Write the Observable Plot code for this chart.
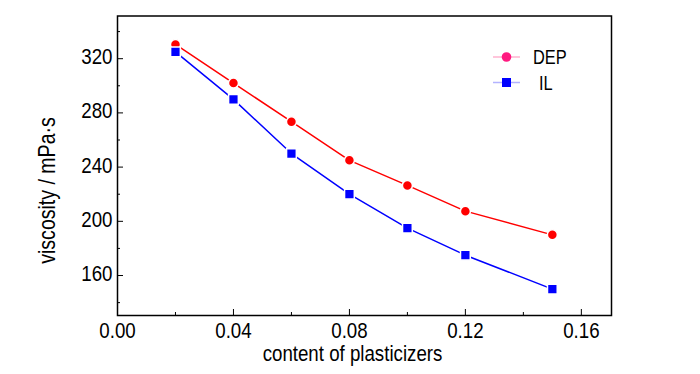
<!DOCTYPE html>
<html>
<head>
<meta charset="utf-8">
<script src="https://cdn.jsdelivr.net/npm/d3@7"></script>
<script src="https://cdn.jsdelivr.net/npm/@observablehq/plot@0.6"></script>
<style>
  html, body { margin: 0; padding: 0; background: #fff; }
  #chart svg { font-family: "Liberation Sans", Arial, sans-serif; }
</style>
</head>
<body>
<div id="chart"></div>
<script>
const content = [0.02, 0.04, 0.06, 0.08, 0.10, 0.12, 0.15];
const depViscosity = [330.5, 302, 273.5, 245, 226.5, 207.5, 190];
const ilViscosity = [325, 290, 250, 220, 195, 175, 150];
const xMajorTicks = [0, 0.04, 0.08, 0.12, 0.16];
const xMinorTicks = [0.02, 0.06, 0.10, 0.14];
const yMajorTicks = [160, 200, 240, 280, 320];
const yMinorTicks = [140, 180, 220, 260, 300, 340];
const seriesNames = ["DEP", "IL"];
const xLabel = "content of plasticizers";
const yLabel = "viscosity / mPa·s";

const dep = content.map((x, i) => ({x, y: depViscosity[i]}));
const il = content.map((x, i) => ({x, y: ilViscosity[i]}));

const chart = Plot.plot({
  width: 700,
  height: 374,
  marginLeft: 117,
  marginRight: 89,
  marginTop: 15.5,
  marginBottom: 59,
  x: {domain: [0, 0.1704]},
  y: {domain: [130.5, 351.5]},
  style: {fontSize: "22px", color: "#000"},
  marks: [
    Plot.axisX(xMajorTicks, {tickSize: -6, tickFormat: d3.format(".2f"), tickPadding: 13, fontSize: 22, label: null}),
    Plot.axisX(xMinorTicks, {tickSize: -3, tickFormat: () => "", label: null}),
    Plot.axisY(yMajorTicks, {tickSize: -6, tickFormat: () => "", label: null}),
    Plot.axisY(yMajorTicks, {tickSize: 0, tickPadding: 5, dy: -1.5, fontSize: 22, label: null}),
    Plot.axisY(yMinorTicks, {tickSize: -3, tickFormat: () => "", label: null}),
    Plot.text([xLabel], {frameAnchor: "bottom", dy: 45, dx: -12, fontSize: 22, text: d => d}),
    Plot.line(dep, {x: "x", y: "y", stroke: "#ff0000", strokeWidth: 1.5}),
    Plot.line(il, {x: "x", y: "y", stroke: "#0000ff", strokeWidth: 1.5}),
    Plot.dot(dep, {x: "x", y: "y", r: 5, fill: "#ff0000", stroke: "#fff", strokeWidth: 1.5}),
    Plot.dot(il, {x: "x", y: "y", r: 5.5, symbol: "square", fill: "#0000ff", stroke: "#fff", strokeWidth: 1.5}),
    Plot.frame({stroke: "#000", strokeWidth: 1.5})
  ]
});

document.getElementById("chart").appendChild(chart);
const svg = d3.select(chart);

// Y axis title (rotated)
svg.append("text")
  .attr("transform", "translate(55,190.5) rotate(-90)")
  .attr("text-anchor", "middle")
  .attr("font-size", 23)
  .attr("fill", "#000")
  .text(yLabel);

// Legend drawn into the same SVG
const leg = svg.append("g")
  .attr("font-family", "\"Liberation Sans\", Arial, sans-serif")
  .attr("font-size", 20)
  .attr("text-anchor", "start");
const legendItems = [
  {name: seriesNames[0], color: "#ff1a80", lineColor: "#ffb3cf", shape: "circle"},
  {name: seriesNames[1], color: "#0000ff", lineColor: "#b3b3ff", shape: "square"}
];
legendItems.forEach((item, i) => {
  const cy = 57 + i * 25.5;
  leg.append("line").attr("x1", 493).attr("x2", 520).attr("y1", cy).attr("y2", cy).attr("stroke", item.lineColor).attr("stroke-width", 1.5);
  if (item.shape === "circle") {
    leg.append("circle").attr("cx", 506.5).attr("cy", cy).attr("r", 4.8).attr("fill", item.color);
  } else {
    leg.append("rect").attr("x", 502).attr("y", cy - 4.5).attr("width", 9).attr("height", 9).attr("fill", item.color);
  }
  leg.append("text").attr("x", i === 0 ? 533 : 539).attr("y", cy).attr("dy", "0.36em").attr("data-sx", 0.82).text(item.name);
});

// Condense all text horizontally (reference uses a narrow, tall font)
svg.selectAll("text").each(function() {
  const t = d3.select(this);
  const sx = +(t.attr("data-sx") || 0.85);
  let x = parseFloat(t.attr("x"));
  if (!isFinite(x) || String(t.attr("x")).includes("em")) x = 0;
  const T = t.attr("transform") || "";
  t.attr("transform", `${T} translate(${x},0) scale(${sx},1) translate(${-x},0)`.trim());
});
</script>
</body>
</html>
